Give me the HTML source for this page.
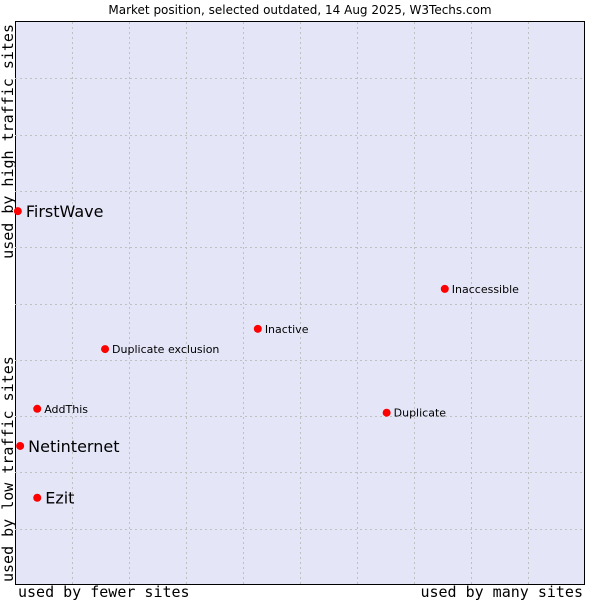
<!DOCTYPE html>
<html><head><meta charset="utf-8"><style>
body{margin:0;background:#fff;width:600px;height:600px;overflow:hidden}
svg{display:block}
</style></head><body>
<svg id="chart" width="600" height="600" xmlns="http://www.w3.org/2000/svg">
<text x="300" y="14" text-anchor="middle" font-family="DejaVu Sans, sans-serif" font-size="12" fill="#000">Market position, selected outdated, 14 Aug 2025, W3Techs.com</text>
<rect x="15.5" y="21.5" width="569" height="563" fill="#e4e6f8" stroke="#000" stroke-width="1"/>
<g id="grid"></g>
<text x="18" y="597" font-family="DejaVu Sans Mono, Liberation Mono, monospace" font-size="15" fill="#000">used by fewer sites</text>
<text x="583" y="597" text-anchor="end" font-family="DejaVu Sans Mono, Liberation Mono, monospace" font-size="15" fill="#000">used by many sites</text>
<text transform="translate(13,24) rotate(-90)" text-anchor="end" font-family="DejaVu Sans Mono, Liberation Mono, monospace" font-size="15" fill="#000">used by high traffic sites</text>
<text transform="translate(13,582) rotate(-90)" font-family="DejaVu Sans Mono, Liberation Mono, monospace" font-size="15" fill="#000">used by low traffic sites</text>
<g id="points"></g>
</svg>
<script>
const names = ["FirstWave","Netinternet","Ezit","AddThis","Duplicate exclusion","Inactive","Inaccessible","Duplicate"];
const xValues = [0.5,0.9,3.9,3.9,15.8,42.6,75.4,65.2];
const yValues = [66.4,24.7,15.5,31.3,41.9,45.5,52.6,30.6];
const bigLabel = [true,true,true,false,false,false,false,false];
const NS="http://www.w3.org/2000/svg";
const L=15,R=585,T=22,B=585;
const xs=v=>L+v/100*(R-L);
const ys=v=>B-v/100*(B-T);
const grid=document.getElementById('grid');
for(let i=1;i<10;i++){
  const x=Math.round(xs(i*10))+0.5;
  const l=document.createElementNS(NS,'line');
  
  
  l.setAttribute('x1',x);l.setAttribute('x2',x);l.setAttribute('y1',T);l.setAttribute('y2',B);
  l.setAttribute('stroke','#c0c0c0');l.setAttribute('stroke-dasharray','2,3');
  grid.appendChild(l);
  const y=Math.round(ys(i*10))+0.5;
  const h=document.createElementNS(NS,'line');
  
  
  h.setAttribute('x1',L);h.setAttribute('x2',R);h.setAttribute('y1',y);h.setAttribute('y2',y);
  h.setAttribute('stroke','#c0c0c0');h.setAttribute('stroke-dasharray','2,3');
  grid.appendChild(h);
}
const pts=document.getElementById('points');
names.forEach((n,i)=>{
  const cx=xs(xValues[i]),cy=ys(yValues[i]);
  const c=document.createElementNS(NS,'circle');
  
  
  c.setAttribute('cx',cx);c.setAttribute('cy',cy);c.setAttribute('r',4);c.setAttribute('fill','#ff0000');
  pts.appendChild(c);
  const t=document.createElementNS(NS,'text');
  
  
  t.setAttribute('x',cx+(bigLabel[i]?8:7));
  t.setAttribute('y',cy+(bigLabel[i]?6:4));
  t.setAttribute('font-family','DejaVu Sans, sans-serif');
  t.setAttribute('font-size',bigLabel[i]?16:11);
  t.textContent=n;
  pts.appendChild(t);
});
</script>
</body></html>
